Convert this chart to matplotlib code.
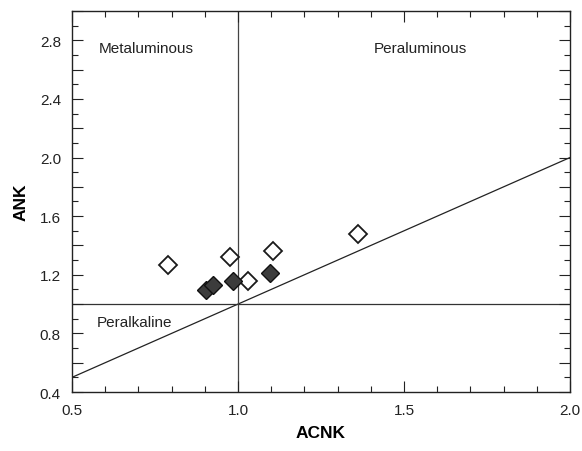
import matplotlib
matplotlib.use("Agg")
import matplotlib.pyplot as plt
from matplotlib.ticker import MultipleLocator, FuncFormatter

plt.rcParams['font.family'] = ['Liberation Sans', 'DejaVu Sans']

open_acnk = [0.79, 0.975, 1.105, 1.03, 1.36]
open_ank = [1.265, 1.32, 1.365, 1.16, 1.477]
fill_acnk = [0.905, 0.925, 0.985, 1.095]
fill_ank = [1.095, 1.13, 1.16, 1.21]

fig = plt.figure(figsize=(5.82, 4.52), dpi=100)
ax = fig.add_axes([0.1237, 0.1305, 0.8557, 0.843])

ax.set_xlim(0.5, 2.0)
ax.set_ylim(0.4, 3.0)

ax.plot([0.5, 2.0], [0.5, 2.0], color='#222222', lw=0.9, zorder=1)
ax.axvline(1.0, color='#444444', lw=0.9, zorder=1)
ax.axhline(1.0, color='#333333', lw=0.9, zorder=1)

ax.plot(open_acnk, open_ank, linestyle='none', marker='D', ms=8.8,
        mfc='white', mec='#1a1a1a', mew=1.3, zorder=3)
ax.plot(fill_acnk, fill_ank, linestyle='none', marker='D', ms=9.2,
        mfc='#3c3c3c', mec='#111111', mew=1.0, zorder=3)

ax.text(0.58, 2.75, 'Metaluminous', fontsize=11, ha='left', va='center', color='#222222')
ax.text(1.41, 2.75, 'Peraluminous', fontsize=11, ha='left', va='center', color='#222222')
ax.text(0.575, 0.88, 'Peralkaline', fontsize=11, ha='left', va='center', color='#222222')

ax.xaxis.set_major_locator(MultipleLocator(0.5))
ax.xaxis.set_minor_locator(MultipleLocator(0.1))
ax.yaxis.set_major_locator(MultipleLocator(0.2))
ax.yaxis.set_minor_locator(MultipleLocator(0.1))
ax.xaxis.set_major_formatter(FuncFormatter(lambda v, p: f'{v:.1f}'))
def yfmt(v, p):
    k = round(v / 0.2)
    return f'{v:.1f}' if k % 2 == 0 else ''
ax.yaxis.set_major_formatter(FuncFormatter(yfmt))

ax.tick_params(which='both', direction='in', top=True, right=True, color='#222222',
               labelsize=11, labelcolor='#222222', width=0.8)
ax.tick_params(which='major', length=8, pad=8)
ax.tick_params(which='minor', length=4)

for s in ax.spines.values():
    s.set_linewidth(1.0)
    s.set_color('#222222')

ax.set_xlabel('ACNK', fontsize=12.5, fontweight='bold', labelpad=6)
ax.set_ylabel('ANK', fontsize=12.5, fontweight='bold', labelpad=8)

fig.savefig('out.png', dpi=100)
